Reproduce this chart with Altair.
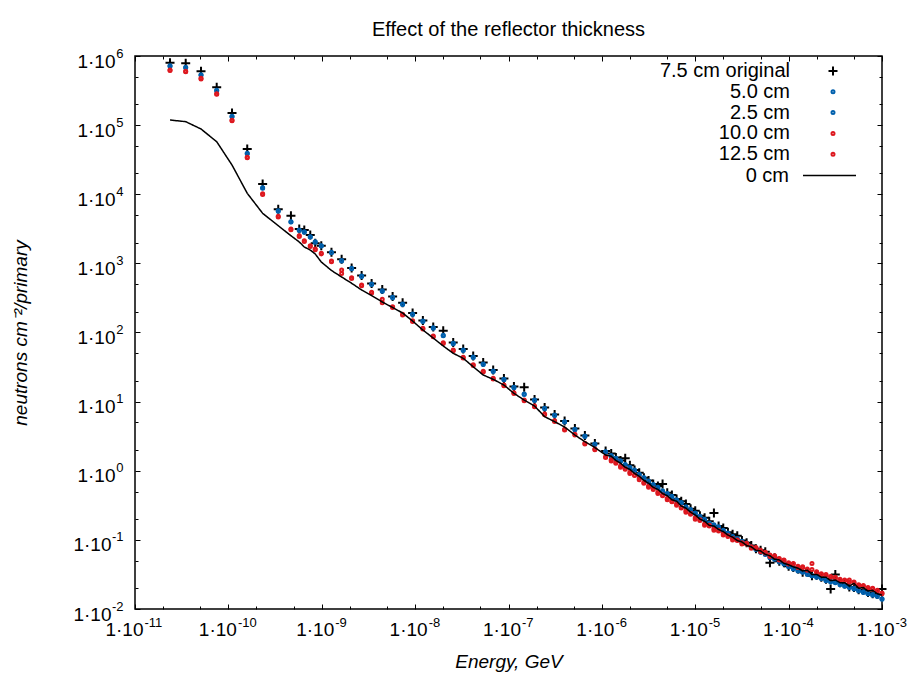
import json
import altair as alt
import pandas as pd

# ---------------- data (log10 values) ----------------
series_names = ["7.5 cm original", "5.0 cm", "2.5 cm", "10.0 cm", "12.5 cm"]
series_colors = ["#000000", "#0060ad", "#0060ad", "#dd181f", "#dd181f"]
line_name = "0 cm"

energy_log10 = [
    -10.625, -10.457, -10.293, -10.125, -9.961, -9.798, -9.633, -9.466, -9.330, -9.241,
    -9.187, -9.123, -9.070, -9.005, -8.896, -8.787, -8.680, -8.573, -8.466, -8.352,
    -8.241, -8.134, -8.027, -7.917, -7.806, -7.699, -7.592, -7.485, -7.378, -7.271,
    -7.164, -7.049, -6.942, -6.832, -6.721, -6.613, -6.506, -6.399, -6.289, -6.182,
    -6.075, -5.960,
    -5.90, -5.85, -5.80, -5.75, -5.70, -5.65, -5.60, -5.55, -5.50, -5.45,
    -5.40, -5.35, -5.30, -5.25, -5.20, -5.15, -5.10, -5.05, -5.00, -4.95,
    -4.90, -4.85, -4.80, -4.75, -4.70, -4.65, -4.60, -4.55, -4.50, -4.45,
    -4.40, -4.35, -4.30, -4.25, -4.20, -4.15, -4.10, -4.05, -4.00, -3.95,
    -3.90, -3.85, -3.80, -3.75, -3.70, -3.65, -3.60, -3.55, -3.50, -3.45,
    -3.40, -3.35, -3.30, -3.25, -3.20, -3.15, -3.10, -3.05, -3.00,
]

flux_75_log10 = [
    5.903, 5.894, 5.779, 5.547, 5.175, 4.655, 4.148, 3.782, 3.690, 3.497,
    3.483, 3.410, 3.290, 3.256, 3.160, 3.059, 2.933, 2.825, 2.709, 2.622,
    2.521, 2.431, 2.282, 2.174, 2.080, 2.026, 1.855, 1.761, 1.660, 1.566,
    1.458, 1.335, 1.219, 1.207, 1.031, 0.915, 0.814, 0.720, 0.611, 0.510,
    0.394, 0.286,
    0.25, 0.19, 0.15, 0.18, 0.08, 0.01, -0.03, -0.10, -0.14, -0.19,
    -0.22, -0.19, -0.32, -0.35, -0.41, -0.44, -0.48, -0.55, -0.58, -0.65,
    -0.68, -0.73, -0.61, -0.80, -0.83, -0.89, -0.92, -0.94, -1.01, -1.04,
    -1.08, -1.13, -1.15, -1.17, -1.33, -1.26, -1.31, -1.33, -1.38, -1.40,
    -1.42, -1.47, -1.46, -1.52, -1.51, -1.54, -1.57, -1.71, -1.50, -1.62,
    -1.64, -1.68, -1.69, -1.72, -1.73, -1.76, -1.78, -1.79, -1.71,
]

flux_50_log10 = [
    5.860, 5.837, 5.729, 5.504, 5.128, 4.592, 4.095, 3.762, 3.603, 3.483,
    3.458, 3.386, 3.314, 3.256, 3.160, 3.042, 2.929, 2.817, 2.702, 2.605,
    2.509, 2.412, 2.268, 2.166, 2.069, 1.959, 1.844, 1.747, 1.646, 1.544,
    1.443, 1.323, 1.207, 1.110, 1.023, 0.903, 0.807, 0.710, 0.600, 0.503,
    0.387, 0.276,
    0.22, 0.18, 0.14, 0.09, 0.05, 0.00, -0.05, -0.10, -0.16, -0.20,
    -0.25, -0.29, -0.34, -0.37, -0.42, -0.47, -0.52, -0.57, -0.62, -0.66,
    -0.71, -0.76, -0.78, -0.82, -0.86, -0.91, -0.95, -0.98, -1.02, -1.05,
    -1.10, -1.14, -1.17, -1.21, -1.25, -1.28, -1.31, -1.35, -1.38, -1.41,
    -1.44, -1.47, -1.49, -1.52, -1.53, -1.56, -1.58, -1.60, -1.62, -1.63,
    -1.66, -1.68, -1.71, -1.73, -1.75, -1.78, -1.79, -1.81, -1.85,
]

flux_25_log10 = [
    5.852, 5.830, 5.722, 5.498, 5.120, 4.585, 4.088, 3.755, 3.597, 3.476,
    3.452, 3.380, 3.306, 3.250, 3.153, 3.036, 2.922, 2.811, 2.696, 2.598,
    2.503, 2.405, 2.262, 2.159, 2.063, 1.952, 1.838, 1.740, 1.640, 1.537,
    1.437, 1.317, 1.200, 1.104, 1.017, 0.897, 0.800, 0.704, 0.594, 0.497,
    0.381, 0.270,
    0.21, 0.17, 0.14, 0.08, 0.04, 0.01, -0.06, -0.10, -0.15, -0.21,
    -0.24, -0.30, -0.33, -0.39, -0.43, -0.46, -0.53, -0.56, -0.61, -0.67,
    -0.70, -0.76, -0.79, -0.81, -0.87, -0.90, -0.96, -0.99, -1.03, -1.05,
    -1.11, -1.13, -1.18, -1.20, -1.26, -1.27, -1.32, -1.34, -1.39, -1.42,
    -1.45, -1.46, -1.50, -1.52, -1.54, -1.55, -1.59, -1.61, -1.61, -1.65,
    -1.67, -1.69, -1.70, -1.74, -1.76, -1.78, -1.80, -1.82, -1.86,
]

flux_100_log10 = [
    5.797, 5.779, 5.677, 5.455, 5.070, 4.535, 4.008, 3.681, 3.497, 3.400,
    3.328, 3.256, 3.208, 3.146, 3.034, 2.904, 2.793, 2.687, 2.582, 2.480,
    2.373, 2.263, 2.171, 2.061, 1.949, 1.852, 1.747, 1.641, 1.534, 1.439,
    1.337, 1.240, 1.129, 1.023, 0.937, 0.821, 0.724, 0.600, 0.527, 0.397,
    0.315, 0.203,
    0.16, 0.11, 0.07, 0.02, -0.02, -0.07, -0.11, -0.18, -0.22, -0.27,
    -0.31, -0.36, -0.40, -0.45, -0.48, -0.54, -0.58, -0.63, -0.68, -0.72,
    -0.77, -0.80, -0.84, -0.87, -0.91, -0.95, -0.98, -1.01, -1.04, -1.06,
    -1.10, -1.12, -1.15, -1.19, -1.22, -1.24, -1.27, -1.30, -1.33, -1.35,
    -1.38, -1.40, -1.42, -1.34, -1.47, -1.49, -1.51, -1.53, -1.55, -1.57,
    -1.59, -1.58, -1.62, -1.65, -1.67, -1.69, -1.71, -1.73, -1.78,
]

flux_125_log10 = [
    5.790, 5.772, 5.668, 5.447, 5.062, 4.527, 3.998, 3.672, 3.487, 3.390,
    3.318, 3.245, 3.198, 3.136, 3.024, 2.855, 2.782, 2.677, 2.572, 2.430,
    2.362, 2.252, 2.160, 2.050, 1.938, 1.842, 1.737, 1.630, 1.524, 1.428,
    1.327, 1.230, 1.119, 1.012, 0.927, 0.811, 0.713, 0.590, 0.517, 0.387,
    0.305, 0.193,
    0.14, 0.12, 0.05, 0.03, -0.04, -0.06, -0.13, -0.17, -0.24, -0.26,
    -0.33, -0.35, -0.42, -0.44, -0.50, -0.53, -0.60, -0.62, -0.70, -0.71,
    -0.79, -0.79, -0.86, -0.86, -0.93, -0.94, -1.00, -1.00, -1.06, -1.05,
    -1.12, -1.11, -1.17, -1.18, -1.24, -1.23, -1.29, -1.29, -1.35, -1.34,
    -1.40, -1.39, -1.44, -1.43, -1.46, -1.50, -1.50, -1.54, -1.54, -1.58,
    -1.58, -1.61, -1.61, -1.66, -1.66, -1.70, -1.70, -1.74, -1.77,
]

flux_0_log10 = [
    5.074, 5.050, 4.944, 4.760, 4.423, 4.014, 3.724, 3.545, 3.400, 3.310,
    3.237, 3.193, 3.136, 3.020, 2.897, 2.803, 2.712, 2.615, 2.535, 2.441,
    2.362, 2.282, 2.166, 2.036, 1.920, 1.805, 1.699, 1.627, 1.505, 1.385,
    1.323, 1.240, 1.120, 1.023, 0.937, 0.782, 0.710, 0.633, 0.517, 0.420,
    0.336, 0.228,
    0.21, 0.15, 0.11, 0.05, 0.02, -0.04, -0.08, -0.14, -0.18, -0.24,
    -0.27, -0.33, -0.36, -0.42, -0.44, -0.51, -0.54, -0.60, -0.64, -0.70,
    -0.73, -0.79, -0.80, -0.85, -0.88, -0.93, -0.96, -1.01, -1.03, -1.08,
    -1.10, -1.15, -1.16, -1.21, -1.23, -1.28, -1.29, -1.34, -1.36, -1.39,
    -1.41, -1.45, -1.44, -1.50, -1.50, -1.54, -1.54, -1.59, -1.58, -1.62,
    -1.62, -1.67, -1.63, -1.70, -1.69, -1.74, -1.73, -1.78, -1.80,
]

tick_base_label = "1·10"
x_tick_exponents = ["-11", "-10", "-9", "-8", "-7", "-6", "-5", "-4", "-3"]
y_tick_exponents = ["-2", "-1", "0", "1", "2", "3", "4", "5", "6"]

# ---------------- tables ----------------
series_values = [flux_75_log10, flux_50_log10, flux_25_log10, flux_100_log10, flux_125_log10]
rows = []
for name, vals in zip(series_names, series_values):
    for e, f in zip(energy_log10, vals):
        rows.append({"E": 10.0 ** e, "F": 10.0 ** f, "series": name})
pts = pd.DataFrame(rows)
plus_df = pts[pts["series"] == series_names[0]]
blue_df = pts[pts["series"].isin(series_names[1:3])]
red_df = pts[pts["series"].isin(series_names[3:5])]
line_df = pd.DataFrame({"E": [10.0 ** e for e in energy_log10],
                        "F": [10.0 ** f for f in flux_0_log10],
                        "series": line_name})

W, H = 747, 553
FONT = "Liberation Sans"

major_x = [10.0 ** k for k in range(-11, -2)]
minor_x = [m * 10.0 ** k for k in range(-11, -3) for m in (2, 5)]
major_y = [10.0 ** k for k in range(-2, 7)]
minor_y = [m * 10.0 ** k for k in range(-2, 6) for m in (2, 5)]

EXP = "round(log(datum.value)/LN10)"
is_major = f"abs(log(datum.value)/LN10 - {EXP}) < 0.01"
tick_size = {"condition": {"test": is_major, "value": 5}, "value": 3}

x_scale = alt.Scale(type="log", domain=[1e-11, 1e-3], nice=False)
y_scale = alt.Scale(type="log", domain=[1e-2, 1e6], nice=False)

x_exp_expr = json.dumps(x_tick_exponents) + f"[{EXP} + 11]"
y_exp_expr = json.dumps(y_tick_exponents) + f"[{EXP} + 2]"
base_expr = json.dumps(tick_base_label, ensure_ascii=False)

common_lab = dict(ticks=False, tickSize=0, domain=False, grid=False, labelColor="black",
                  labelFlush=False, labelOverlap=False, labelBound=False, labelFont=FONT)

# base "1·10" labels (with axis titles)
x_axis_base = alt.Axis(orient="bottom", values=major_x, labelExpr=base_expr,
                       labelFontSize=19, labelPadding=11, labelAlign="right",
                       labelOffset={"condition": {"test": f"{EXP} <= -10", "value": 8}, "value": 12},
                       title="Energy, GeV", titleFontSize=19, titleFontStyle="italic",
                       titleFontWeight="normal", titleColor="black", titleFont=FONT,
                       titleX=W / 2, titleY=52, titleBaseline="middle", titleAlign="center",
                       **common_lab)
y_axis_base = alt.Axis(orient="left", values=major_y, labelExpr=base_expr,
                       labelFontSize=19, labelAlign="right", labelBaseline="middle",
                       labelPadding={"condition": {"test": f"{EXP} < 0", "value": 24}, "value": 20},
                       labelOffset=5,
                       title="neutrons cm⁻²/primary", titleFontSize=19,
                       titleFontStyle="italic", titleFontWeight="normal", titleColor="black",
                       titleFont=FONT, titleX=-115, titleY=H / 2, titleAngle=270,
                       titleBaseline="middle", titleAlign="center",
                       **common_lab)

# superscript exponents
x_axis_exp = alt.Axis(orient="bottom", values=major_x, labelExpr=x_exp_expr,
                      labelFontSize=13, labelPadding=7, labelAlign="left",
                      labelOffset={"condition": {"test": f"{EXP} <= -10", "value": 9}, "value": 13},
                      title=None, **common_lab)
y_axis_exp = alt.Axis(orient="left", values=major_y, labelExpr=y_exp_expr,
                      labelFontSize=13, labelAlign="right", labelBaseline="middle",
                      labelPadding=12, labelOffset={"expr": "-3"},
                      title=None, **common_lab)


def tick_axis(orient, offset, values):
    return alt.Axis(orient=orient, offset=offset, values=values, labels=False,
                    ticks=True, tickSize=tick_size, tickColor="black", tickWidth=1,
                    domain=False, grid=False, title=None)


legend_pts = alt.Legend(orient="none", legendX=688, legendY=5, title=None,
                        labelAlign="right", labelOffset={"expr": "-53"}, labelFontSize=20,
                        labelFont=FONT, labelColor="black", labelLimit=400,
                        symbolStrokeWidth=2, rowPadding=0.8, padding=0)

plus_shape = "M-1,0L1,0M0,-1L0,1"
color_enc = alt.Color("series:N", scale=alt.Scale(domain=series_names, range=series_colors),
                      legend=legend_pts)
shape_enc = alt.Shape("series:N", scale=alt.Scale(domain=series_names,
                      range=[plus_shape, "circle", "circle", "circle", "circle"]),
                      legend=legend_pts)
size_enc = alt.Size("series:N", scale=alt.Scale(type="ordinal", domain=series_names,
                                                 range=[81, 9, 9, 9, 9]),
                    legend=legend_pts)


def point_layer(df, xaxis, yaxis):
    return alt.Chart(df).mark_point(filled=False, strokeWidth=2, opacity=1).encode(
        x=alt.X("E:Q", scale=x_scale, axis=xaxis),
        y=alt.Y("F:Q", scale=y_scale, axis=yaxis),
        color=color_enc, shape=shape_enc, size=size_enc,
    )


plus_layer = point_layer(plus_df, x_axis_base, y_axis_base)
blue_layer = point_layer(blue_df, x_axis_exp, y_axis_exp)
red_layer = point_layer(red_df, tick_axis("top", -H, major_x + minor_x),
                        tick_axis("right", -W, major_y + minor_y))

line_layer = alt.Chart(line_df).mark_line(color="black", strokeWidth=1.5).encode(
    x=alt.X("E:Q", scale=x_scale, axis=tick_axis("bottom", -H, major_x + minor_x)),
    y=alt.Y("F:Q", scale=y_scale, axis=tick_axis("left", -W, major_y + minor_y)),
    strokeDash=alt.StrokeDash("series:N", scale=alt.Scale(domain=[line_name], range=[[1, 0]]),
                              legend=alt.Legend(orient="none", legendX=667, legendY=92,
                                                title=None, labelAlign="right",
                                                labelOffset={"expr": "-68"},
                                                symbolType="stroke", symbolSize=2809,
                                                symbolStrokeWidth=1.5, symbolStrokeColor="black",
                                                labelFontSize=20, labelFont=FONT,
                                                labelColor="black", padding=0)),
)

chart = alt.layer(plus_layer, blue_layer, red_layer, line_layer).resolve_axis(
    x="independent", y="independent"
).properties(
    width=W, height=H,
    title=alt.TitleParams("Effect of the reflector thickness", fontSize=20,
                          fontWeight="normal", font=FONT, color="black",
                          anchor="middle", frame="group", offset=7),
    autosize=alt.AutoSizeParams(type="none"),
    padding={"left": 135, "top": 56, "right": 31, "bottom": 64},
).configure(font=FONT, background="white").configure_view(
    stroke="black", strokeWidth=1.5
)

chart.save("out.html", embed_options={"renderer": "svg", "actions": False})
